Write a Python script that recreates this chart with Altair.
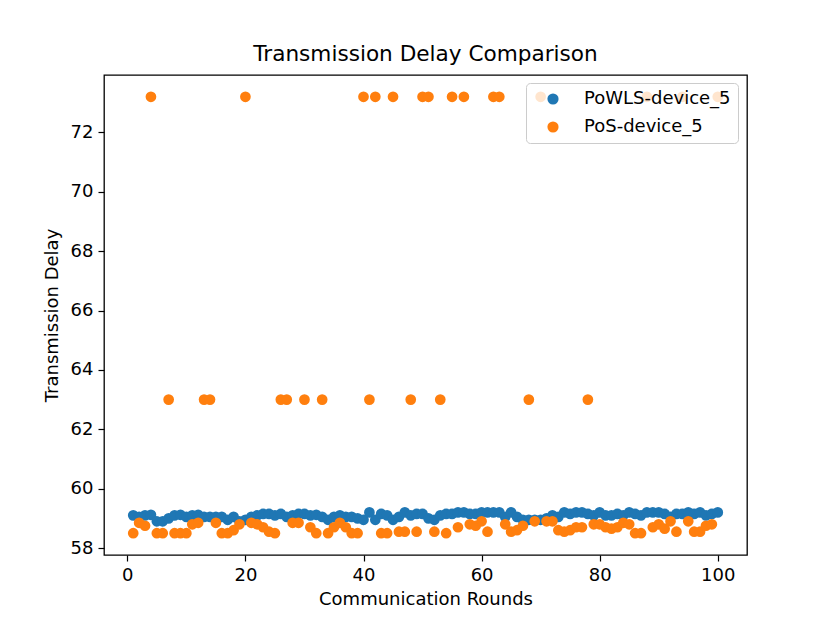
import altair as alt
import pandas as pd

rounds = list(range(1, 101))

powls = [59.1, 59.05, 59.1, 59.12, 58.9, 58.9, 59.0, 59.1, 59.12, 59.05,
         59.1, 59.12, 59.05, 59.05, 59.05, 59.05, 58.95, 59.05, 58.9, 58.95,
         59.05, 59.1, 59.15, 59.15, 59.1, 59.15, 59.05, 59.1, 59.15, 59.15,
         59.1, 59.12, 59.05, 58.95, 59.05, 59.1, 59.05, 59.05, 59.0, 58.95,
         59.2, 58.95, 59.15, 59.1, 58.95, 59.05, 59.2, 59.1, 59.15, 59.15,
         59.0, 58.95, 59.1, 59.15, 59.15, 59.2, 59.2, 59.15, 59.15, 59.2,
         59.2, 59.2, 59.2, 59.05, 59.2, 59.05, 58.95, 58.95, 58.95, 58.95,
         59.0, 59.1, 59.05, 59.2, 59.15, 59.2, 59.2, 59.15, 59.1, 59.2,
         59.1, 59.1, 59.15, 59.1, 59.2, 59.15, 59.1, 59.2, 59.2, 59.2,
         59.15, 59.05, 59.15, 59.15, 59.2, 59.15, 59.2, 59.1, 59.15, 59.2]

pos = [58.5, 58.85, 58.75, 73.2, 58.5, 58.5, 63.0, 58.5, 58.5, 58.5,
       58.8, 58.85, 63.0, 63.0, 58.85, 58.5, 58.5, 58.6, 58.8, 73.2,
       58.85, 58.8, 58.7, 58.55, 58.5, 63.0, 63.0, 58.85, 58.85, 63.0,
       58.7, 58.5, 63.0, 58.5, 58.7, 58.85, 58.7, 58.5, 58.5, 73.2,
       63.0, 73.2, 58.5, 58.5, 73.2, 58.55, 58.55, 63.0, 58.55, 73.2,
       73.2, 58.55, 63.0, 58.5, 73.2, 58.7, 73.2, 58.8, 58.75, 58.9,
       58.55, 73.2, 73.2, 58.8, 58.55, 58.6, 58.75, 63.0, 58.9, 73.2,
       58.9, 58.9, 58.6, 58.55, 58.6, 58.7, 58.7, 63.0, 58.8, 58.8,
       58.7, 58.65, 58.7, 58.85, 58.8, 58.5, 58.5, 73.2, 58.7, 58.8,
       58.65, 58.9, 58.55, 73.2, 58.9, 58.55, 58.55, 58.75, 58.8, 73.2]

series_names = ["PoWLS-device_5", "PoS-device_5"]
series_colors = ["#1f77b4", "#ff7f0e"]

df = pd.concat([
    pd.DataFrame({"round": rounds, "delay": powls, "series": series_names[0]}),
    pd.DataFrame({"round": rounds, "delay": pos, "series": series_names[1]}),
], ignore_index=True)
df["idx"] = range(len(df))

FONT = "DejaVu Sans"

chart = alt.Chart(df).mark_circle(size=115, opacity=1).encode(
    x=alt.X("round:Q", title="Communication Rounds",
            scale=alt.Scale(domain=[-3.95, 104.95], nice=False, zero=False),
            axis=alt.Axis(values=[0, 20, 40, 60, 80, 100], grid=False, domain=False,
                          tickColor="black", tickSize=6, tickWidth=1.2,
                          labelPadding=5, titlePadding=6, format="d")),
    y=alt.Y("delay:Q", title="Transmission Delay",
            scale=alt.Scale(domain=[57.765, 73.935], nice=False, zero=False),
            axis=alt.Axis(values=[58, 60, 62, 64, 66, 68, 70, 72], grid=False, domain=False,
                          tickColor="black", tickSize=6, tickWidth=1.2,
                          labelPadding=5, titlePadding=9, format="d")),
    color=alt.Color("series:N", title=None,
                    scale=alt.Scale(domain=series_names, range=series_colors),
                    legend=alt.Legend(orient="none", legendX=422, legendY=8,
                                      fillColor="rgba(255,255,255,0.8)",
                                      strokeColor="#cccccc", cornerRadius=4,
                                      padding=7, symbolType="circle", symbolSize=125,
                                      symbolOpacity=1, symbolStrokeWidth=0,
                                      labelFontSize=18, labelFont=FONT, labelColor="black",
                                      labelOffset=22, rowPadding=10, labelLimit=400,
                                      symbolOffset=11)),
    order=alt.Order("idx:Q"),
).properties(
    width=643, height=480,
    title=alt.TitleParams("Transmission Delay Comparison", fontSize=21.6, font=FONT,
                          fontWeight="normal", color="black", anchor="middle", offset=9),
    autosize=alt.AutoSizeParams(type="none"),
    padding={"left": 96, "top": 67, "right": 60, "bottom": 55},
    background="white",
).configure_view(
    stroke="black", strokeWidth=1.3
).configure_axis(
    labelFont=FONT, titleFont=FONT, labelFontSize=18, titleFontSize=18,
    labelColor="black", titleColor="black", titleFontWeight="normal"
)

chart.save("out.html", embed_options={"renderer": "svg", "actions": False})
